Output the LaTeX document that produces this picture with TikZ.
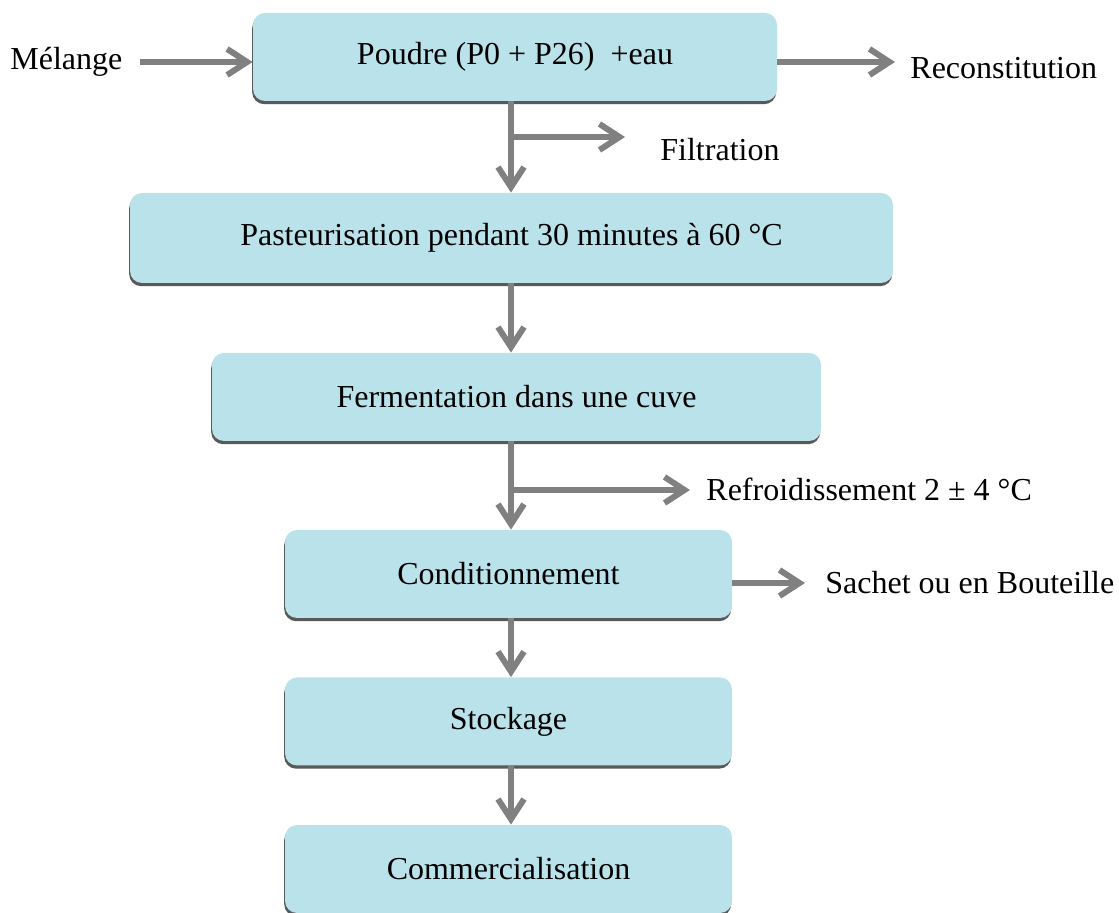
\documentclass[tikz,border=0pt]{standalone}
\usepackage{fontspec}
\setmainfont{Liberation Serif}
\usetikzlibrary{arrows.meta,shadows}
\definecolor{boxblue}{RGB}{186,226,234}
\definecolor{flowgray}{RGB}{128,128,128}
\begin{document}
\begin{tikzpicture}[
        x=0.5pt, y=-0.5pt,
        stage/.style={rectangle, rounded corners=6pt, fill=boxblue, minimum height=44pt, inner sep=0pt,
            font=\fontsize{16}{19}\selectfont,
            drop shadow={shadow xshift=-0.4pt, shadow yshift=-1.6pt, fill=black!65, opacity=1}},
        note/.style={anchor=west, inner sep=0pt, font=\fontsize{16}{19}\selectfont},
        flow/.style={-{Straight Barb[length=10pt,width=13pt]}, line width=3pt, flowgray}
    ]
        \useasboundingbox (0,0) rectangle (1119,913);
        \coordinate (spine) at (511,0);

        % === Stages ===
        \node[stage, minimum width=262pt] (poudre) at (515,57) {Poudre (P0 + P26)\ \ +eau};
        \node[stage, minimum width=381.5pt, minimum height=45pt] (pasteur) at (511.5,238) {Pasteurisation pendant 30 minutes à 60 °C};
        \node[stage, minimum width=304.5pt] (ferment) at (516.5,397) {Fermentation dans une cuve};
        \node[stage, minimum width=223.5pt] (condit) at (508.5,574) {Conditionnement};
        \node[stage, minimum width=223.5pt] (stock) at (508.5,721.5) {Stockage};
        \node[stage, minimum width=223.5pt] (commerce) at (508.5,869) {Commercialisation};

        % === Side notes ===
        \node[note] (melange) at (10,62) {Mélange};
        \node[note] (recon) at (910,68) {Reconstitution};
        \node[note] (filtr) at (660,150) {Filtration};
        \node[note] (refroid) at (706,489) {Refroidissement 2 ± 4 °C};
        \node[note] (sachet) at (825,583) {Sachet ou en Bouteille};

        % === Main flow ===
        \draw[flow] (poudre.south -| spine) -- (pasteur.north -| spine);
        \draw[flow] (pasteur.south -| spine) -- (ferment.north -| spine);
        \draw[flow] (ferment.south -| spine) -- (condit.north -| spine);
        \draw[flow] (condit.south -| spine) -- (stock.north -| spine);
        \draw[flow] (stock.south -| spine) -- (commerce.north -| spine);

        % === Side arrows ===
        \coordinate (m0) at (140,62);
        \coordinate (r1) at (895,62);
        \coordinate (j1) at (511,137);
        \coordinate (e1) at (625,137);
        \coordinate (j2) at (511,490);
        \coordinate (e2) at (690,490);
        \coordinate (s1) at (805,583);
        \draw[flow] (m0) -- (m0 -| poudre.west);
        \draw[flow] (r1 -| poudre.east) -- (r1);
        \draw[flow] (j1) -- (e1);
        \draw[flow] (j2) -- (e2);
        \draw[flow] (s1 -| condit.east) -- (s1);
    \end{tikzpicture}
\end{document}
